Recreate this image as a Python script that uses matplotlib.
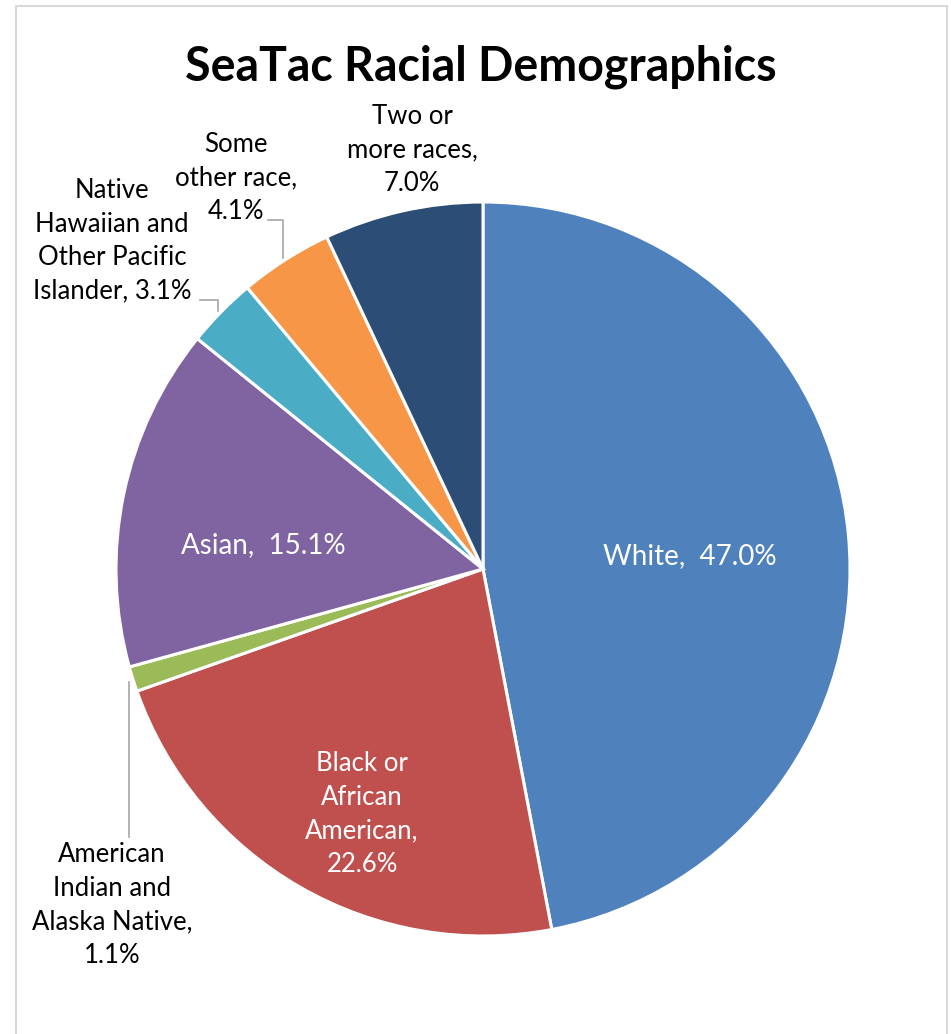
import matplotlib.pyplot as plt
from matplotlib.patches import Rectangle

races = [
    "White",
    "Black or African American",
    "American Indian and Alaska Native",
    "Asian",
    "Native Hawaiian and Other Pacific Islander",
    "Some other race",
    "Two or more races",
]
shares = [47.0, 22.6, 1.1, 15.1, 3.1, 4.1, 7.0]
colors = ["#4F81BD", "#C0504D", "#9BBB59", "#8064A2", "#4BACC6", "#F79646", "#2C4D75"]

# label text as wrapped in the original chart
label_lines = [
    "White,  {:.1f}%",
    "Black or\nAfrican\nAmerican,\n{:.1f}%",
    "American\nIndian and\nAlaska Native,\n{:.1f}%",
    "Asian,  {:.1f}%",
    "Native\nHawaiian and\nOther Pacific\nIslander, {:.1f}%",
    "Some\nother race,\n{:.1f}%",
    "Two or\nmore races,\n{:.1f}%",
]

W, H = 951, 1034
CX, CY, R = 483, 569, 367  # pie centre and radius in pixels


def to_data(px, py):
    return (px - CX) / R, (CY - py) / R


plt.rcParams["font.family"] = ["Lato", "DejaVu Sans"]

fig = plt.figure(figsize=(W / 100, H / 100), dpi=100)
fig.patches.append(
    Rectangle((16 / W, -0.05), (947 - 16) / W, 1.05 - 6 / H, transform=fig.transFigure,
              fill=False, edgecolor="#D9D9D9", linewidth=1.5)
)

ax = fig.add_axes([(CX - R) / W, (H - CY - R) / H, 2 * R / W, 2 * R / H])
ax.pie(shares, colors=colors, startangle=90, counterclock=False,
       wedgeprops=dict(edgecolor="white", linewidth=2.2))
ax.set_xlim(-1, 1)
ax.set_ylim(-1, 1)
ax.set_aspect("equal")
ax.axis("off")

fig.text(481 / W, 1 - 67 / H, "SeaTac Racial Demographics", ha="center", va="center",
         fontsize=33.5, fontweight="bold")

# label anchor positions (pixel centres), text colour, size
label_pos = [
    (690, 556, "white", 20),
    (362, 814, "white", 18.5),
    (112, 905, "black", 18.5),
    (263, 545, "white", 20),
    (112, 241, "black", 18.5),
    (236, 178, "black", 18.5),
    (412, 150, "black", 18.5),
]
for text, val, (px, py, c, fs) in zip(label_lines, shares, label_pos):
    x, y = to_data(px, py)
    ax.text(x, y, text.format(val), ha="center", va="center", color=c,
            fontsize=fs, linespacing=1.42)

# leader lines
leaders = [
    [(268, 220), (283, 220), (283, 258)],
    [(200, 300), (218, 300), (218, 311)],
    [(129, 837), (129, 682)],
]
for pts in leaders:
    xs, ys = zip(*[to_data(px, py) for px, py in pts])
    ax.plot(xs, ys, color="#A6A6A6", linewidth=1.2, clip_on=False)

fig.savefig("out.png", dpi=100)
